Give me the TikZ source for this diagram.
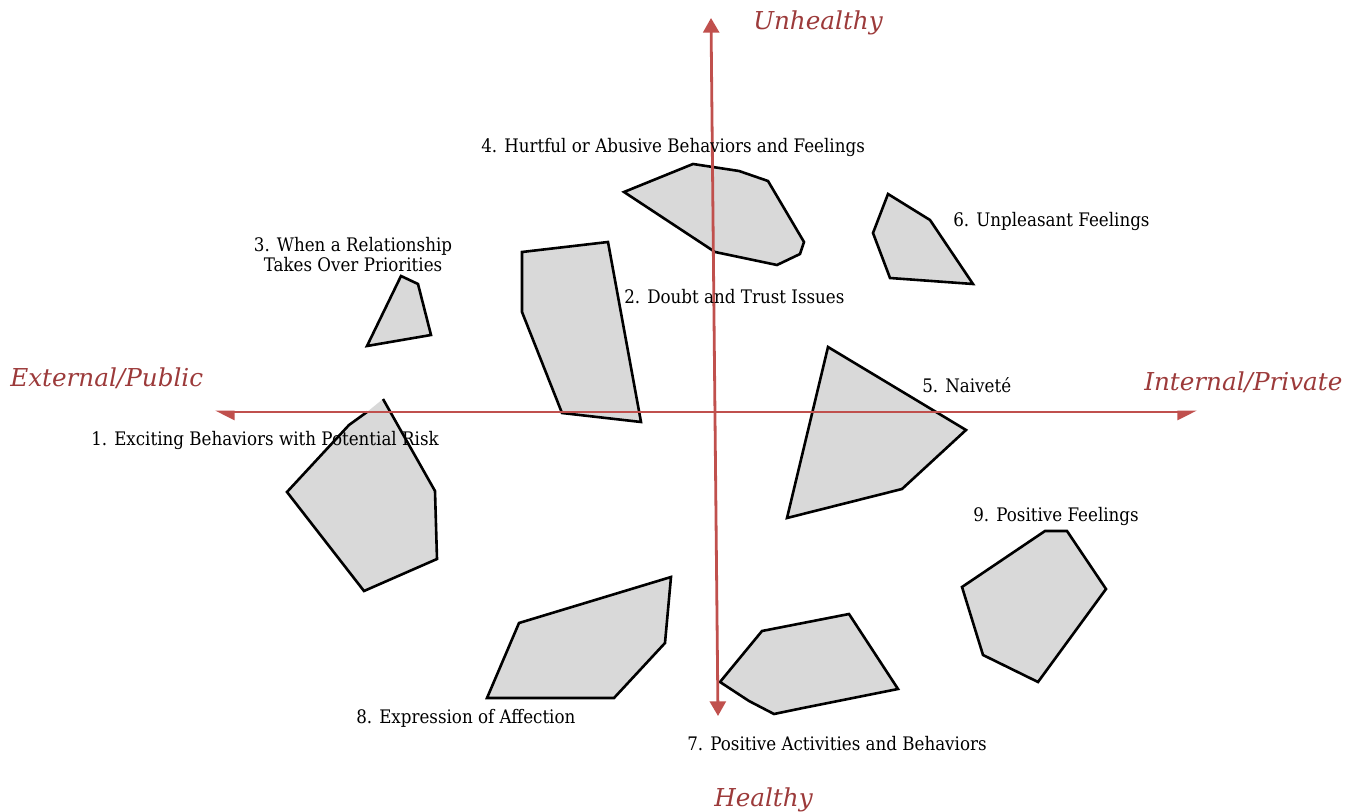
\documentclass[tikz,border=0pt]{standalone}
\usepackage{fontspec}
\setmainfont{DejaVu Serif}
\usetikzlibrary{arrows.meta}
\definecolor{axisred}{HTML}{C0504D}
\definecolor{axistext}{HTML}{9C3A3A}
\definecolor{shapefill}{HTML}{D9D9D9}
\newcommand{\cond}[1]{\scalebox{0.895}[1]{#1}}
\begin{document}
\begin{tikzpicture}[x=0.75pt,y=0.75pt,
  region/.style={fill=shapefill,draw=black,line width=1.95pt,line join=miter},
  regionfill/.style={fill=shapefill},
  regionline/.style={draw=black,line width=1.95pt,line join=miter},
  lbl/.style={inner sep=0pt,anchor=base west,font=\fontsize{14}{12.75}\selectfont},
  axlbl/.style={inner sep=0pt,anchor=base west,text=axistext,font=\fontsize{18.5}{20}\selectfont\itshape},
  axis/.style={draw=axisred,line width=2.1pt}]
\useasboundingbox (0,0) rectangle (1363,-812);

% regions
% 1
\fill[regionfill] (383,-399) -- (435,-491) -- (437,-559) -- (364,-591) -- (287,-492) -- (349,-425) -- (367,-412) -- cycle;
\draw[regionline] (383,-399) -- (435,-491) -- (437,-559) -- (364,-591) -- (287,-492) -- (349,-425) -- (367,-412);
% 2
\draw[region] (522,-252) -- (608,-242) -- (641,-422) -- (562,-413) -- (522,-312) -- cycle;
% 3
\draw[region] (401,-276) -- (418,-284) -- (431,-335) -- (367,-346) -- cycle;
% 4
\draw[region] (624,-192) -- (693,-164) -- (739,-171) -- (768,-181) -- (804,-242) -- (800,-254) -- (777,-265) -- (715,-252) -- cycle;
% 6
\draw[region] (888,-194) -- (930,-220) -- (973,-284) -- (890,-278) -- (873,-233) -- cycle;
% 5
\draw[region] (828,-347) -- (966,-430) -- (902,-489) -- (787,-518) -- cycle;
% 9
\draw[region] (962,-587) -- (1045,-531) -- (1067,-531) -- (1106,-589) -- (1038,-682) -- (983,-655) -- cycle;
% 7
\draw[region] (720,-682) -- (762,-631) -- (849,-614) -- (898,-689) -- (803,-708) -- (774,-714) -- (749,-701) -- cycle;
% 8
\draw[region] (519,-623) -- (671,-577) -- (665,-643) -- (614,-698) -- (487,-698) -- cycle;

% axes
\coordinate (axleft) at (215,-412);
\coordinate (axright) at (1197,-412);
\coordinate (axtop) at (711,-18);
\coordinate (axbottom) at (718,-716);
\draw[axis,{Triangle[harpoon,length=12.5pt,width=12pt]}-{Triangle[harpoon,swap,length=12.5pt,width=12pt]}] (axleft) -- (axright);
\draw[axis,{Triangle[length=11pt,width=12pt]}-{Triangle[length=11pt,width=12pt]}] (axtop) -- (axbottom);

% axis labels
\node[axlbl] (unhealthy) at (753,-30) {Unhealthy};
\node[axlbl] (healthy) at (714,-806) {Healthy};
\node[axlbl] (external) at (10,-387) {External/Public};
\node[axlbl] (internal) at (1144,-391) {Internal/Private};

% region labels
\node[lbl] (l4) at (481,-153) {\cond{4. Hurtful or Abusive Behaviors and Feelings}};
\node[lbl,anchor=base] (l3) at (353,-252) {\cond{\begin{tabular}[t]{@{}c@{}}3. When a Relationship\\Takes Over Priorities\end{tabular}}};
\node[lbl] (l2) at (624,-304) {\cond{2. Doubt and Trust Issues}};
\node[lbl] (l6) at (953,-227) {\cond{6. Unpleasant Feelings}};
\node[lbl] (l5) at (922,-393) {\cond{5. Naiveté}};
\node[lbl] (l1) at (91,-446) {\cond{1. Exciting Behaviors with Potential Risk}};
\node[lbl] (l9) at (973,-521) {\cond{9. Positive Feelings}};
\node[lbl] (l8) at (356,-723) {\cond{8. Expression of Affection}};
\node[lbl] (l7) at (687,-750) {\cond{7. Positive Activities and Behaviors}};
\end{tikzpicture}
\end{document}
